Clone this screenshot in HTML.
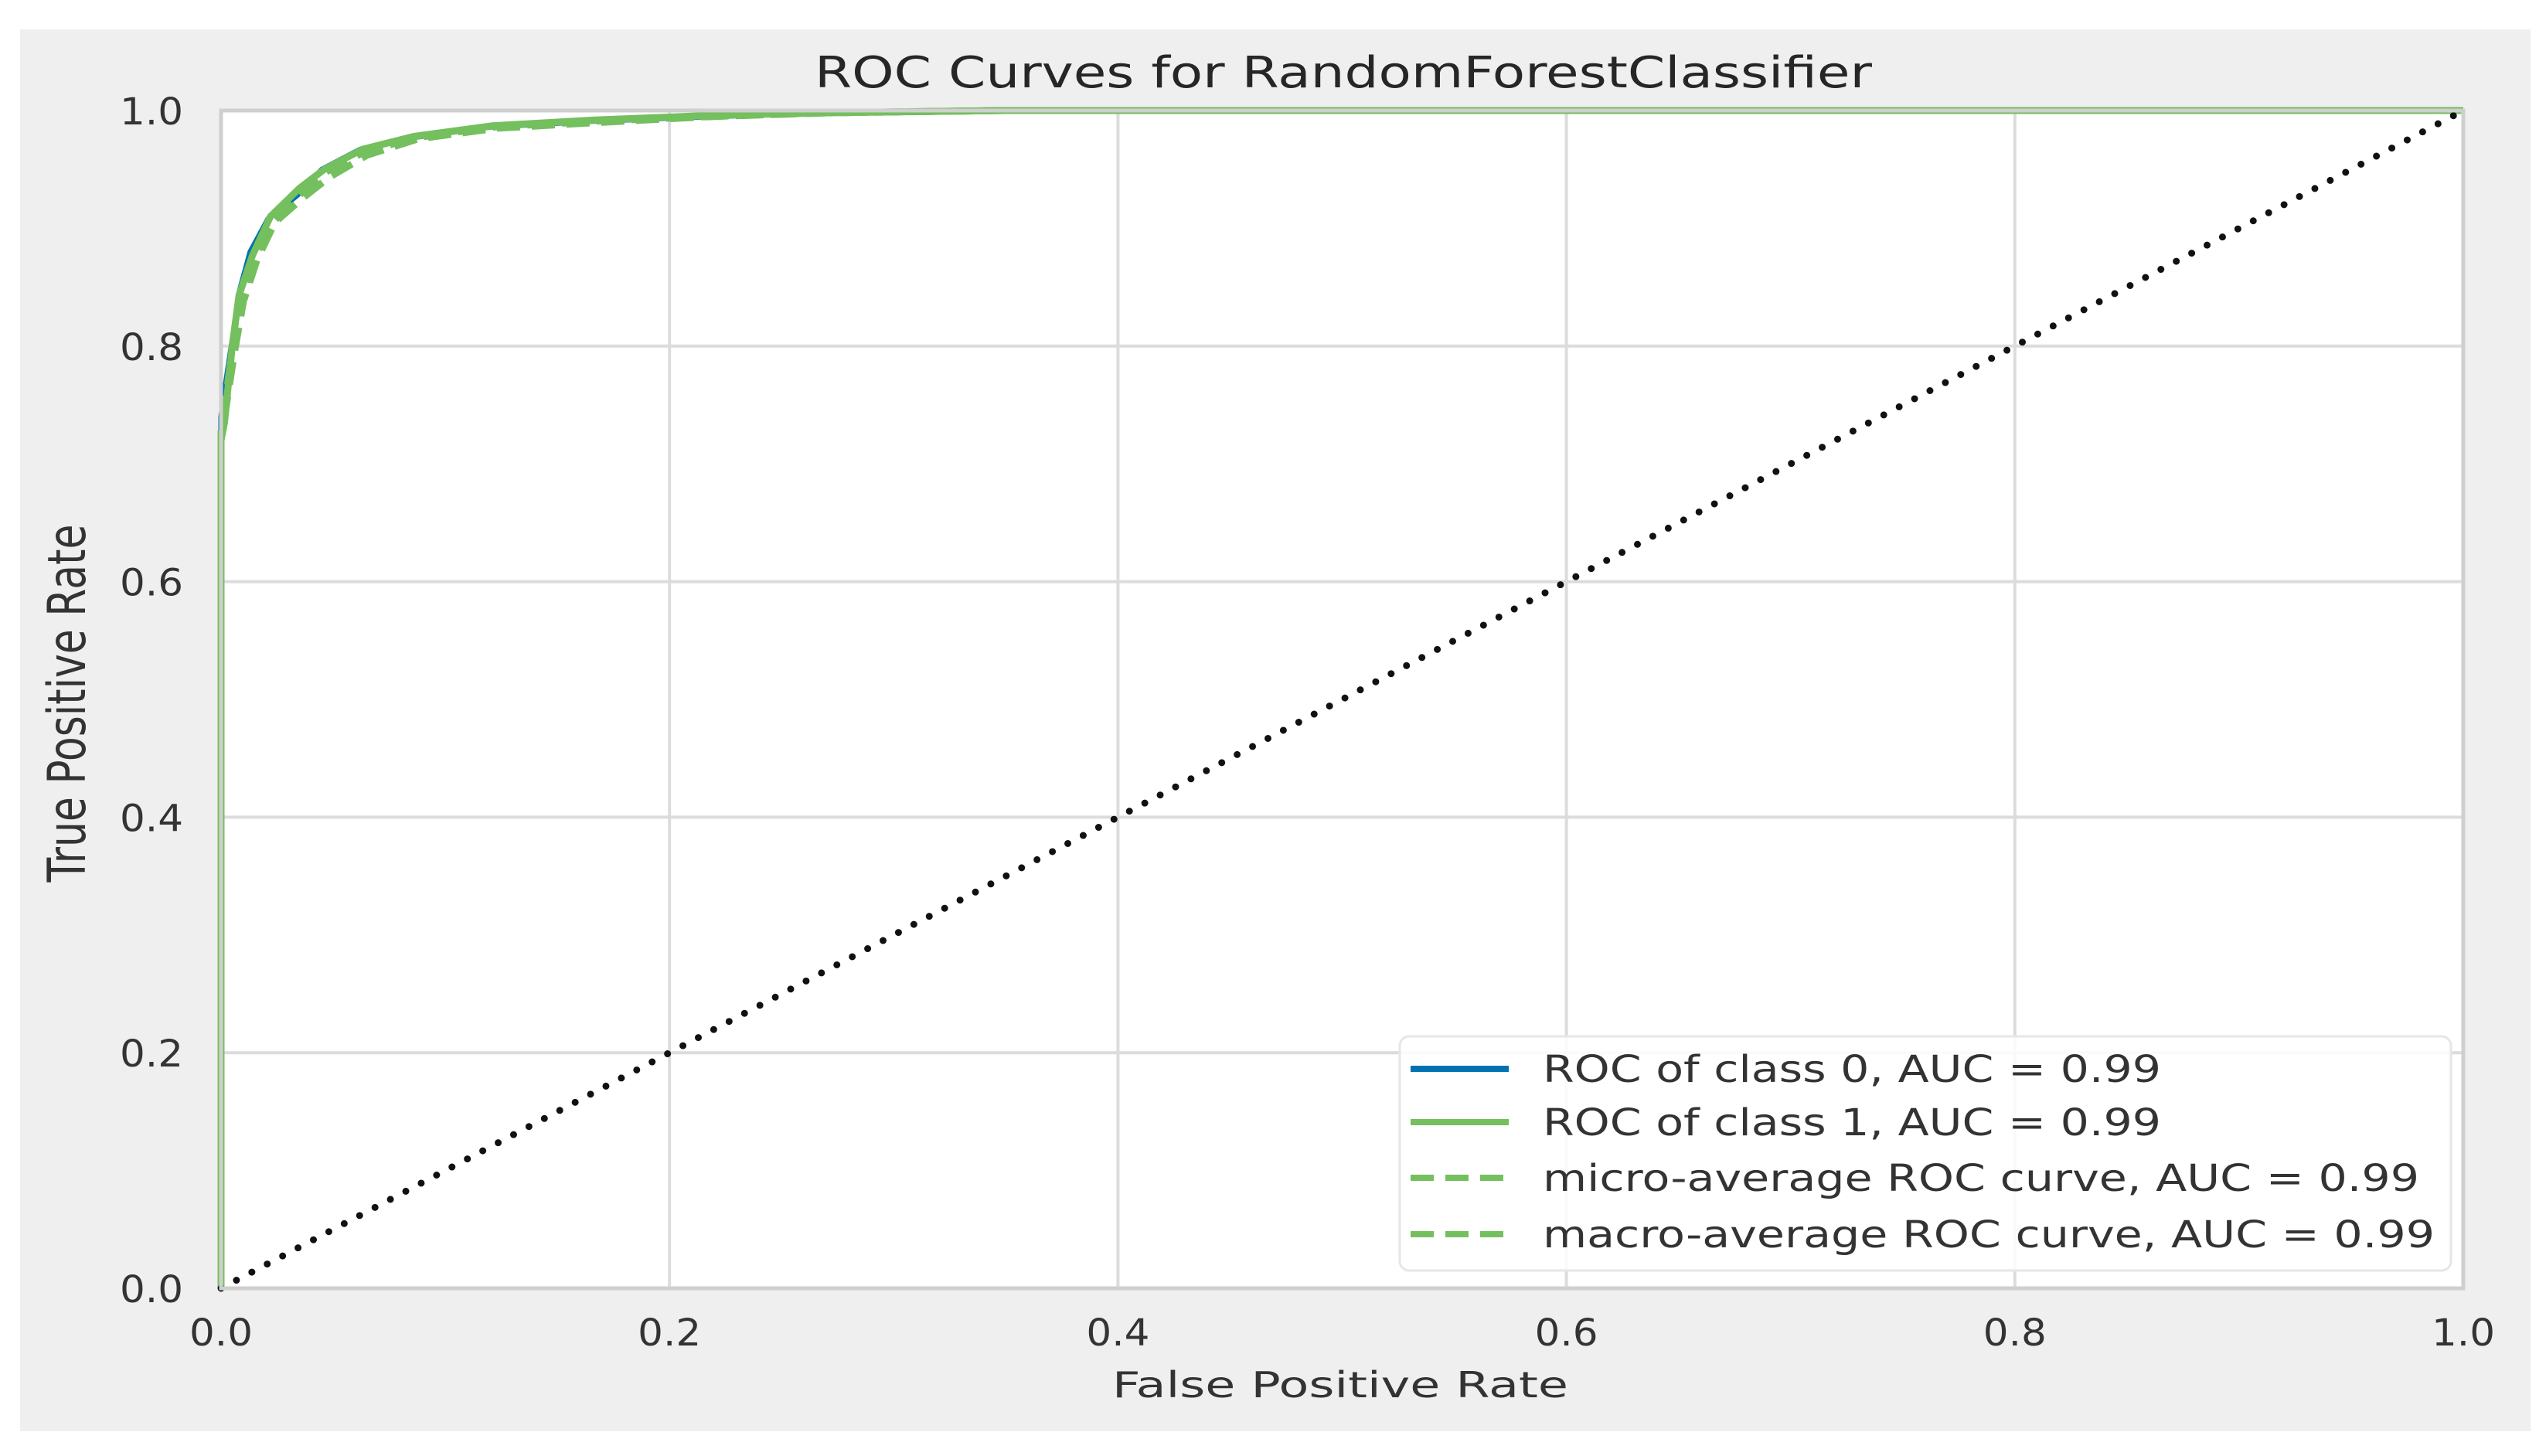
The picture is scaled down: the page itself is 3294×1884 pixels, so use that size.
<!DOCTYPE html>
<html><head><meta charset="utf-8"><style>
html,body{margin:0;padding:0;background:#fff;}
svg{display:block;}
</style></head><body>
<svg id="chart" width="3294" height="1884" xmlns="http://www.w3.org/2000/svg" font-family="'DejaVu Sans','Liberation Sans',sans-serif">
<rect x="26" y="38" width="3248" height="1814" fill="#efefef"/>
<rect x="286" y="143" width="2901" height="1524" fill="#ffffff"/>
<g id="grid"></g>
<g id="series"></g>
<rect x="286" y="143" width="2901" height="1524" fill="none" stroke="#cfcfcf" stroke-width="5"/>
<g id="ticks" fill="#333" font-size="48"></g>
<text x="1054" y="113" font-size="56" fill="#262626" textLength="1368" lengthAdjust="spacingAndGlyphs">ROC Curves for RandomForestClassifier</text>
<text x="1734" y="1808" font-size="46" fill="#333" text-anchor="middle" textLength="590" lengthAdjust="spacingAndGlyphs">False Positive Rate</text>
<text transform="translate(110,910) rotate(-90)" x="0" y="0" font-size="68" fill="#333" text-anchor="middle" textLength="463" lengthAdjust="spacingAndGlyphs">True Positive Rate</text>
<g>
<rect x="1811" y="1341" width="1360" height="303" rx="12" fill="#ffffff" fill-opacity="0.85" stroke="#e6e6e6" stroke-width="3"/>
<line x1="1825" y1="1383" x2="1952" y2="1383" stroke="#0072b2" stroke-width="8"/>
<text x="1996" y="1400" font-size="48" fill="#333" textLength="800" lengthAdjust="spacingAndGlyphs">ROC of class 0, AUC = 0.99</text>
<line x1="1825" y1="1452" x2="1952" y2="1452" stroke="#74bf5e" stroke-width="8"/>
<text x="1996" y="1469" font-size="48" fill="#333" textLength="800" lengthAdjust="spacingAndGlyphs">ROC of class 1, AUC = 0.99</text>
<line x1="1825" y1="1524" x2="1952" y2="1524" stroke="#74bf5e" stroke-width="8" stroke-dasharray="30 15"/>
<text x="1996" y="1541" font-size="48" fill="#333" textLength="1134" lengthAdjust="spacingAndGlyphs">micro-average ROC curve, AUC = 0.99</text>
<line x1="1825" y1="1597" x2="1952" y2="1597" stroke="#74bf5e" stroke-width="8" stroke-dasharray="30 15"/>
<text x="1996" y="1614" font-size="48" fill="#333" textLength="1154" lengthAdjust="spacingAndGlyphs">macro-average ROC curve, AUC = 0.99</text>
</g>
</svg>
<script>
const xTicks = [0.0, 0.2, 0.4, 0.6, 0.8, 1.0];
const yTicks = [0.0, 0.2, 0.4, 0.6, 0.8, 1.0];
const tickLabels = ["0.0", "0.2", "0.4", "0.6", "0.8", "1.0"];
const fpr0 = [0, 0, 0.0014, 0.005, 0.008, 0.013, 0.021, 0.034, 0.045, 0.062, 0.085, 0.12, 0.166, 0.22, 0.27, 0.35, 1.0];
const tpr0 = [0, 0.74, 0.76, 0.805, 0.845, 0.88, 0.908, 0.928, 0.95, 0.967, 0.977, 0.986, 0.991, 0.995, 0.998, 1.0, 1.0];
const fpr1 = [0, 0, 0.0015, 0.005, 0.008, 0.014, 0.022, 0.035, 0.046, 0.063, 0.086, 0.121, 0.167, 0.22, 0.27, 0.35, 1.0];
const tpr1 = [0, 0.72, 0.735, 0.80, 0.843, 0.877, 0.91, 0.934, 0.95, 0.967, 0.978, 0.987, 0.992, 0.996, 0.998, 1.0, 1.0];
const fprMicro = [0, 0, 0.0015, 0.005, 0.009, 0.015, 0.023, 0.036, 0.047, 0.064, 0.087, 0.122, 0.168, 0.22, 0.27, 0.35, 1.0];
const tprMicro = [0, 0.73, 0.745, 0.80, 0.84, 0.875, 0.905, 0.93, 0.948, 0.965, 0.977, 0.986, 0.991, 0.995, 0.998, 1.0, 1.0];
const fprMacro = [0, 0, 0.0016, 0.006, 0.01, 0.016, 0.024, 0.036, 0.048, 0.065, 0.088, 0.123, 0.17, 0.22, 0.27, 0.35, 1.0];
const tprMacro = [0, 0.72, 0.74, 0.795, 0.838, 0.873, 0.905, 0.925, 0.943, 0.962, 0.976, 0.985, 0.99, 0.995, 0.998, 1.0, 1.0];
const diagX = [0, 1];
const diagY = [0, 1];

const NS = "http://www.w3.org/2000/svg";
const X0 = 286, X1 = 3187, Y0 = 1667, Y1 = 143;
function sx(v){ return X0 + v * (X1 - X0); }
function sy(v){ return Y0 - v * (Y0 - Y1); }
function mk(tag, parent){ const e = document.createElementNS(NS, tag); parent.appendChild(e); return e; }

const grid = document.getElementById('grid');
xTicks.forEach((t, i) => {
  if (t > 0 && t < 1) {
    const l = mk('line', grid);
    
    
    l.setAttribute('x1', sx(t)); l.setAttribute('x2', sx(t));
    l.setAttribute('y1', Y1); l.setAttribute('y2', Y0);
    l.setAttribute('stroke', '#dcdcdc'); l.setAttribute('stroke-width', '4');
  }
});
yTicks.forEach((t, i) => {
  if (t > 0 && t < 1) {
    const l = mk('line', grid);
    
    
    l.setAttribute('x1', X0); l.setAttribute('x2', X1);
    l.setAttribute('y1', sy(t)); l.setAttribute('y2', sy(t));
    l.setAttribute('stroke', '#dcdcdc'); l.setAttribute('stroke-width', '4');
  }
});

const ticks = document.getElementById('ticks');
xTicks.forEach((t, i) => {
  const tx = mk('text', ticks);
  
  
  tx.setAttribute('x', sx(t)); tx.setAttribute('y', 1741);
  tx.setAttribute('text-anchor', 'middle');
  tx.setAttribute('textLength', '82'); tx.setAttribute('lengthAdjust', 'spacingAndGlyphs');
  tx.textContent = tickLabels[i];
});
yTicks.forEach((t, i) => {
  const tx = mk('text', ticks);
  
  
  tx.setAttribute('x', 237); tx.setAttribute('y', sy(t) + 18);
  tx.setAttribute('text-anchor', 'end');
  tx.setAttribute('textLength', '82'); tx.setAttribute('lengthAdjust', 'spacingAndGlyphs');
  tx.textContent = tickLabels[i];
});

const series = document.getElementById('series');
function drawLine(xs, ys, color, width, dash, name){
  const p = mk('path', series);
  
  
  p.setAttribute('d', xs.map((x, i) => (i ? 'L' : 'M') + sx(x).toFixed(1) + ' ' + sy(ys[i]).toFixed(1)).join(' '));
  p.setAttribute('fill', 'none');
  p.setAttribute('stroke', color);
  p.setAttribute('stroke-width', width);
  p.setAttribute('stroke-linejoin', 'round');
  if (dash) p.setAttribute('stroke-dasharray', dash);
  return p;
}
drawLine(fpr0, tpr0, '#0072b2', 7, null, 'roc-class-0-line');
drawLine(fpr1, tpr1, '#74bf5e', 9, null, 'roc-class-1-line');
drawLine(fprMicro, tprMicro, '#74bf5e', 9, '30 15', 'micro-average-line');
drawLine(fprMacro, tprMacro, '#74bf5e', 9, '30 15', 'macro-average-line');
const d = drawLine(diagX, diagY, '#111111', 9, '0 22.5', 'chance-diagonal');
d.setAttribute('stroke-linecap', 'round');
</script>
</body></html>
